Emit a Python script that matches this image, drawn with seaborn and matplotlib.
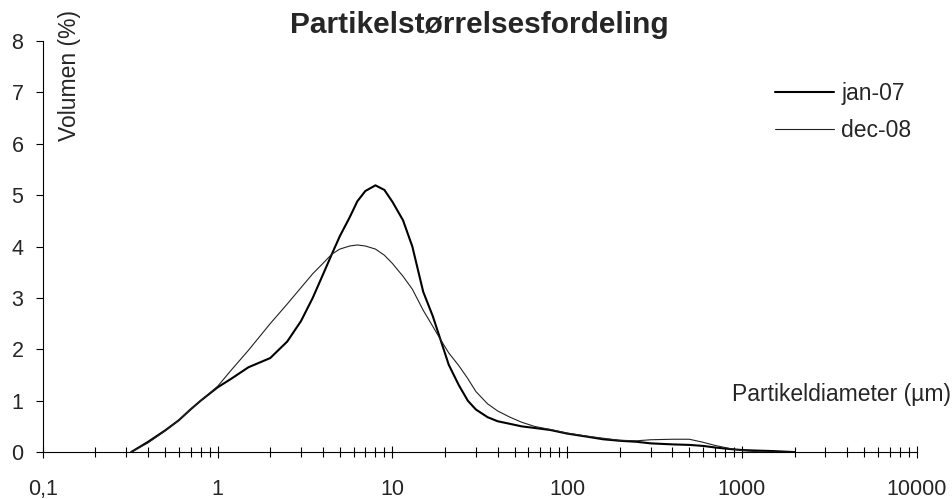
import numpy as np
import pandas as pd
import seaborn as sns
import matplotlib.pyplot as plt
from matplotlib.ticker import LogLocator, FixedLocator, FixedFormatter, NullFormatter

# Data (particle diameter in um, volume in %)
diameter = [0.32, 0.4, 0.5, 0.6, 0.7, 0.8, 1, 1.2, 1.5, 2, 2.5, 3, 3.5, 4, 4.5,
            5, 5.7, 6.3, 7, 8, 9, 10, 11.5, 13, 15, 17, 19, 21, 24, 27, 30, 35,
            40, 47, 55, 65, 80, 100, 130, 160, 200, 250, 300, 400, 500, 600,
            700, 850, 1000, 1200, 1500, 2000]

jan07 = [0, 0.2, 0.42, 0.62, 0.83, 1.0, 1.26, 1.43, 1.65, 1.83, 2.15, 2.55,
         3.0, 3.45, 3.85, 4.2, 4.57, 4.88, 5.08, 5.19, 5.1, 4.87, 4.51, 4.0,
         3.12, 2.65, 2.15, 1.7, 1.3, 1.0, 0.83, 0.68, 0.6, 0.55, 0.5, 0.47,
         0.43, 0.36, 0.3, 0.25, 0.22, 0.2, 0.17, 0.15, 0.14, 0.12, 0.09, 0.06,
         0.04, 0.03, 0.02, 0]

dec08 = [0, 0.18, 0.41, 0.62, 0.83, 1.0, 1.28, 1.6, 1.98, 2.5, 2.88, 3.2,
         3.47, 3.67, 3.85, 3.95, 4.01, 4.03, 4.01, 3.95, 3.83, 3.67, 3.42,
         3.17, 2.76, 2.45, 2.17, 1.93, 1.68, 1.43, 1.18, 0.94, 0.8, 0.68, 0.58,
         0.5, 0.44, 0.37, 0.31, 0.27, 0.23, 0.22, 0.24, 0.25, 0.25, 0.19, 0.13,
         0.07, 0.03, 0.01, 0, 0]

decades = [0.1, 1, 10, 100, 1000, 10000]
decade_labels = ['0,1', '1', '10', '100', '1000', '10000']

df = pd.DataFrame({'diameter': diameter, 'jan-07': jan07, 'dec-08': dec08})

sns.set_theme(style='white')
plt.rcParams['font.family'] = ['Liberation Sans', 'DejaVu Sans']

fig = plt.figure(figsize=(9.52, 4.99), dpi=100)
ax = fig.add_axes([0.045, 0.094, 0.918, 0.824])

sns.lineplot(data=df, x='diameter', y='jan-07', color='black', linewidth=1.5,
             label='jan-07', ax=ax)
sns.lineplot(data=df, x='diameter', y='dec-08', color='#222222', linewidth=0.8,
             label='dec-08', ax=ax)

ax.set_xscale('log')
ax.set_xlim(0.1, 10000)
ax.set_ylim(0, 8)

ax.xaxis.set_major_locator(FixedLocator(decades))
ax.xaxis.set_major_formatter(FixedFormatter(decade_labels))
ax.xaxis.set_minor_locator(LogLocator(base=10, subs=np.arange(2, 10), numticks=20))
ax.xaxis.set_minor_formatter(NullFormatter())
ax.set_yticks(range(0, 9))

ax.tick_params(axis='x', which='major', direction='inout', length=9, width=0.8,
               color='black', labelsize=15.5, pad=15, bottom=True)
ax.tick_params(axis='x', which='minor', direction='inout', length=7, width=0.8,
               color='black', bottom=True)
ax.tick_params(axis='y', direction='out', length=5, width=0.8, color='black',
               labelsize=15.5, pad=9, left=True)

for side in ['top', 'right']:
    ax.spines[side].set_visible(False)
for side in ['left', 'bottom']:
    ax.spines[side].set_color('black')
    ax.spines[side].set_linewidth(0.8)

ax.set_xlabel('')
ax.set_ylabel('')
ax.set_title('Partikelstørrelsesfordeling', fontsize=21.5, fontweight='bold', pad=6)

ax.text(0.031, 0.915, 'Volumen (%)', transform=ax.transAxes, rotation=90,
        ha='center', va='center', fontsize=16.5)
ax.text(0.788, 1.12, 'Partikeldiameter (µm)', transform=ax.get_yaxis_transform(),
        ha='left', va='center', fontsize=16.5)

ax.legend(loc='upper left', bbox_to_anchor=(0.8375, 0.9), frameon=False,
          fontsize=16.5, handlelength=2.6, handletextpad=0.3, labelspacing=0.6,
          borderpad=0, borderaxespad=0)

fig.savefig('out.png', dpi=100)
